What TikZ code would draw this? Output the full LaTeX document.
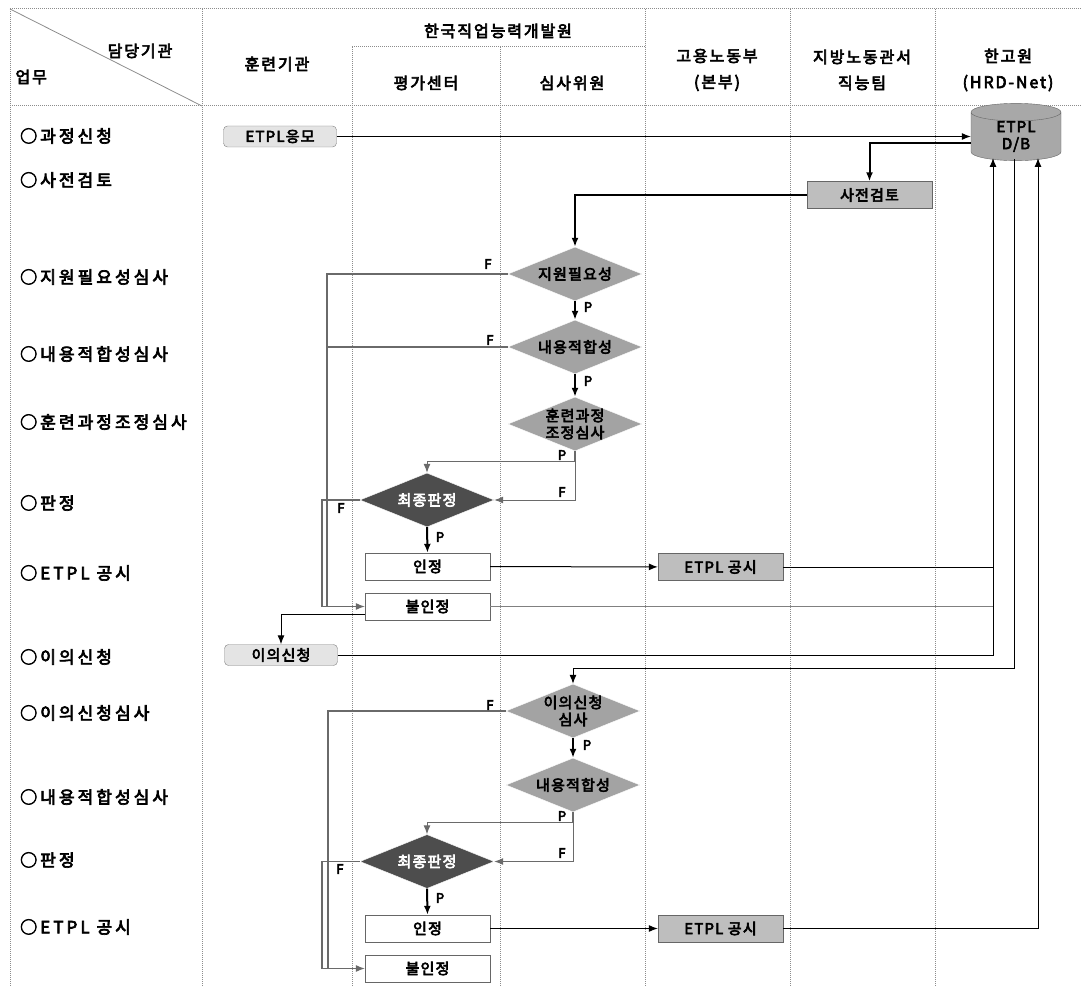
\documentclass[tikz,border=0pt]{standalone}
\usepackage{fontspec}
\setmainfont{Noto Sans CJK KR}[FakeBold=4]
\newfontfamily\krfont{Noto Sans CJK KR}[LetterSpace=12,FakeBold=4]
\newfontfamily\krrowfont{Noto Sans CJK KR}[LetterSpace=18,FakeBold=4]
\newfontfamily\krboxfont{Noto Sans CJK KR}[LetterSpace=8,FakeBold=4]
\usepackage{tikz}
\usetikzlibrary{positioning,arrows.meta,shapes.geometric}
\usepackage{xcolor}
\definecolor{dbgray}{HTML}{A8A8A8}
\definecolor{chkgray}{HTML}{A3A3A3}
\definecolor{boxgray}{HTML}{BEBEBE}
\definecolor{startgray}{HTML}{E4E4E4}
\definecolor{judgegray}{HTML}{4D4D4D}
\definecolor{lanegray}{HTML}{8C8C8C}
\definecolor{flinegray}{HTML}{6A6A6A}
\newcommand{\hdrfont}{\krfont\fontsize{16}{26}\selectfont}
\newcommand{\rowfont}{\krrowfont\fontsize{17}{20}\selectfont}
\newcommand{\boxfont}{\krboxfont\fontsize{15}{17}\selectfont}
\newcommand{\pffont}{\fontsize{13}{13}\selectfont}

\begin{document}
\begin{tikzpicture}[x=1pt,y=-1pt,
	lane/.style={draw=lanegray, line width=1pt, densely dotted},
	hdr/.style={font=\hdrfont, align=center},
	rowlbl/.style={font=\rowfont, anchor=west, inner sep=0pt},
	startbox/.style={draw=gray, fill=startgray, rounded corners=4pt, minimum width=113, minimum height=21, font=\boxfont, inner sep=0pt},
	procbox/.style={draw=gray!80!black, fill=boxgray, minimum width=125, minimum height=27, font=\boxfont, inner sep=0pt},
	plainbox/.style={procbox, fill=white},
	check/.style={diamond, fill=chkgray, draw=white, minimum width=134, minimum height=54, inner sep=-6pt, aspect=2.4, font=\boxfont, align=center},
	judge/.style={check, fill=judgegray, text=white},
	db/.style={cylinder, shape border rotate=90, aspect=0.45, draw=gray!80!black, fill=dbgray, minimum width=90, minimum height=46, font=\boxfont, align=center, inner sep=0pt},
	link/.style={line width=1pt, -{Latex[length=9pt,width=7pt]}},
	heavy/.style={link, line width=2pt},
	fline/.style={draw=flinegray, line width=1.4pt},
	pf/.style={font=\pffont, inner sep=0pt}]
	
	\useasboundingbox (0,0) rectangle (1081,987);
	
	\draw[lane] (10,9) -- (1081,9);
	\draw[lane] (10,106) -- (1081,106);
	\draw[lane] (352,47) -- (645,47);
	\foreach \lx in {10,202,645,790,935}
		\draw[lane] (\lx,9) -- (\lx,987);
	\foreach \lx in {352,500}
		\draw[lane] (\lx,47) -- (\lx,987);
	\draw[draw=lanegray, line width=0.8pt] (10,9) -- (202,106);
	
	\node[hdr] (hOrg) at (140,51) {담당기관};
	\node[hdr, anchor=west] (hTask) at (12,77) {업무};
	\node[hdr] (hTrain) at (277,64) {훈련기관};
	\node[hdr] (hKorea) at (498,31) {한국직업능력개발원};
	\node[hdr] (hEval) at (426,83) {평가센터};
	\node[hdr] (hJury) at (572,83) {심사위원};
	\node[hdr] (hMoel) at (717,70) {고용노동부\\(본부)};
	\node[hdr] (hLocal) at (862,70) {지방노동관서\\직능팀};
	\node[hdr] (hHrd) at (1008,70) {한고원\\(HRD-Net)};
	
	\node[rowlbl] (r1) at (20,136) {○과정신청};
	\node[rowlbl] (r2) at (20,180) {○사전검토};
	\node[rowlbl] (r3) at (20,277) {○지원필요성심사};
	\node[rowlbl] (r4) at (20,354) {○내용적합성심사};
	\node[rowlbl] (r5) at (20,422) {○훈련과정조정심사};
	\node[rowlbl] (r6) at (20,503) {○판정};
	\node[rowlbl] (r7) at (20,573) {○ETPL 공시};
	\node[rowlbl] (r8) at (20,657) {○이의신청};
	\node[rowlbl] (r9) at (20,713) {○이의신청심사};
	\node[rowlbl] (r10) at (20,797) {○내용적합성심사};
	\node[rowlbl] (r11) at (20,860) {○판정};
	\node[rowlbl] (r12) at (20,927) {○ETPL 공시};
	
	\node[startbox] (apply) at (280,136.5) {ETPL응모};
	\node[db] (db) at (1016,136.5) {ETPL\\D/B};
	\node[procbox] (review) at (869.5,195) {사전검토};
	\node[check] (chk1) at (575,274) {지원필요성};
	\node[check] (chk2) at (575,347) {내용적합성};
	\node[check] (chk3) at (575,424) {훈련과정\\조정심사};
	\node[judge] (final1) at (427,500) {최종판정};
	\node[plainbox] (ok1) at (427.5,566.5) {인정};
	\node[plainbox] (no1) at (427.5,606.5) {불인정};
	\node[procbox] (pub1) at (720.5,567) {ETPL 공시};
	\node[startbox] (appeal) at (281,655) {이의신청};
	\node[check] (chk4) at (573,711) {이의신청\\심사};
	\node[check] (chk5) at (573,785) {내용적합성};
	\node[judge] (final2) at (427,861.5) {최종판정};
	\node[plainbox] (ok2) at (427.5,928.5) {인정};
	\node[plainbox] (no2) at (427.5,968.5) {불인정};
	\node[procbox] (pub2) at (720.5,928.5) {ETPL 공시};
	
	\coordinate (dbin1) at (993,158);
	\coordinate (dbout) at (1014,159);
	\coordinate (dbin2) at (1038,158);
	\coordinate (turn2) at (1014,668);
	\coordinate (j1) at (575,461);
	\coordinate (j2) at (573,822);
	\coordinate (bus1) at (327,606.5);
	\coordinate (bus1b) at (322,606.5);
	\coordinate (bus2) at (328,968.5);
	\coordinate (bus2b) at (322,968.5);
	
	\draw[link] (apply) -- (db);
	\draw[heavy] ([yshift=-7pt]db.west) -| (review.north);
	\draw[heavy] (review.west) -| (chk1.north);
	\draw[heavy] (chk1.south) -- (chk2.north);
	\draw[heavy] (chk2.south) -- (chk3.north);
	\draw[fline] (chk3.south) -- (j1);
	\draw[link, draw=flinegray] (j1) -| (final1.north);
	\draw[link, draw=flinegray] (j1) |- (final1.east);
	\draw[heavy] (final1.south) -- (ok1.north);
	
	\draw[fline] (chk1.west) -| (bus1);
	\draw[fline] (chk2.west) -- (chk2.west -| bus1);
	\draw[fline] (final1.west) -| (bus1b);
	\draw[link, draw=flinegray] (bus1b) -- (no1.west);
	
	\draw[link] (ok1) -- (pub1);
	\draw[line width=1pt] (pub1.east) -- (pub1.east -| dbin1);
	\draw[draw=gray, line width=1pt] (no1.east) -- (no1.east -| dbin1);
	\draw[link] ([yshift=-8pt]no1.west) -| (appeal.north);
	\draw[link] (appeal.east) -| (dbin1);
	
	\draw[link] (dbout) -- (turn2) -| (chk4.north);
	\draw[heavy] (chk4.south) -- (chk5.north);
	\draw[fline] (chk5.south) -- (j2);
	\draw[link, draw=flinegray] (j2) -| (final2.north);
	\draw[link, draw=flinegray] (j2) |- (final2.east);
	\draw[heavy] (final2.south) -- (ok2.north);
	
	\draw[fline] (chk4.west) -| (bus2);
	\draw[fline] (final2.west) -| (bus2b);
	\draw[link, draw=flinegray] (bus2b) -- (no2.west);
	
	\draw[link] (ok2) -- (pub2);
	\draw[link] (pub2.east) -| (dbin2);
	
	\node[pf] (f1) at (488,264) {F};
	\node[pf] (p1) at (588,307) {P};
	\node[pf] (f2) at (490,340) {F};
	\node[pf] (p2) at (588,381) {P};
	\node[pf] (p3) at (562,455) {P};
	\node[pf] (f3) at (562,492) {F};
	\node[pf] (f4) at (341,508) {F};
	\node[pf] (p4) at (440,537) {P};
	\node[pf] (f5) at (490,705) {F};
	\node[pf] (p5) at (587,745) {P};
	\node[pf] (p6) at (562,816) {P};
	\node[pf] (f6) at (562,853) {F};
	\node[pf] (f7) at (340,869) {F};
	\node[pf] (p7) at (440,898) {P};
	
\end{tikzpicture}
\end{document}
